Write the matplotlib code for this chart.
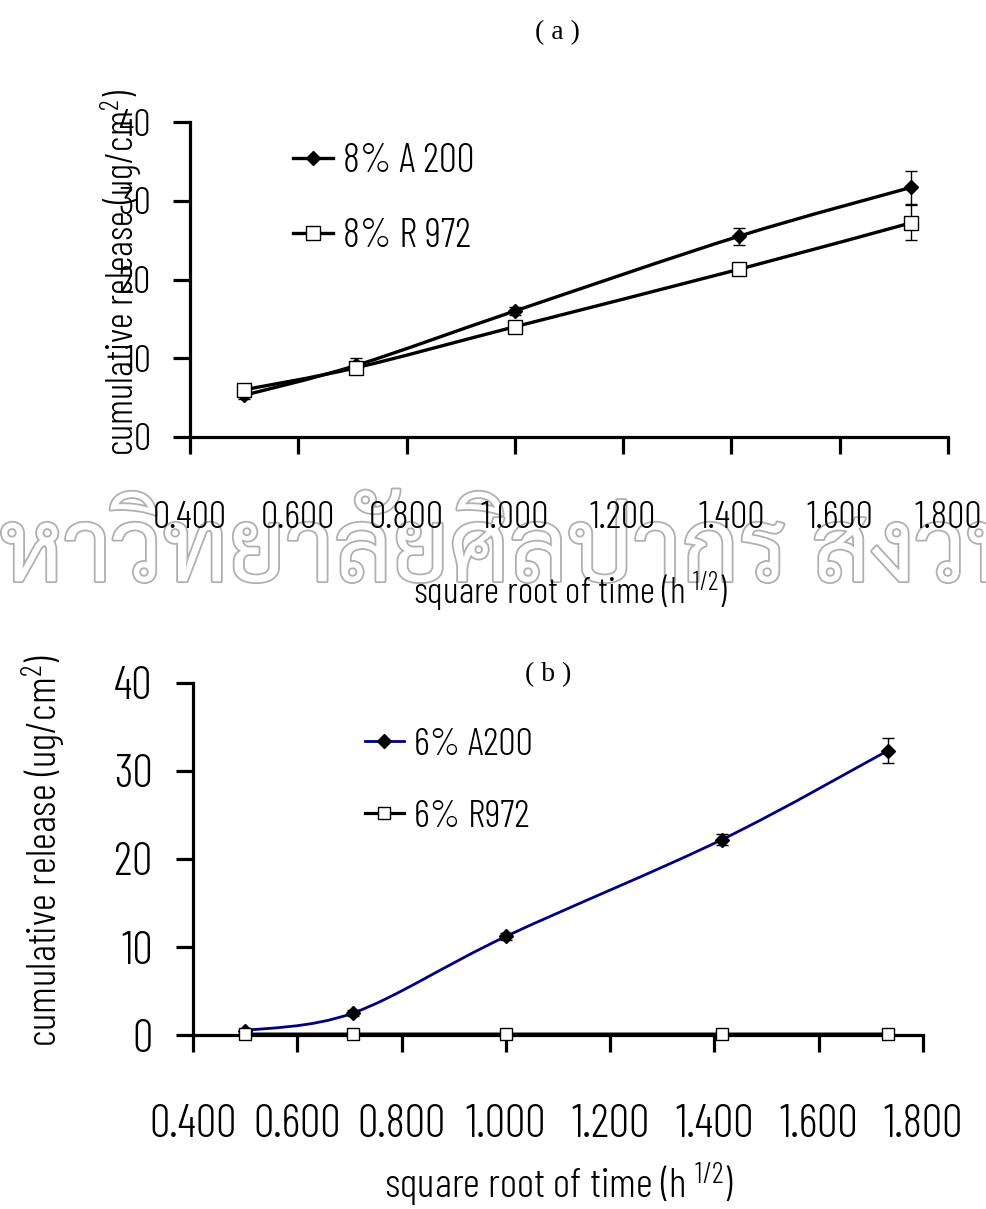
import numpy as np
import matplotlib
matplotlib.use('Agg')
import matplotlib.pyplot as plt
import matplotlib.patheffects as pe
from matplotlib import font_manager
from matplotlib.path import Path
from matplotlib.patches import PathPatch
from matplotlib.lines import Line2D
from matplotlib.ticker import FormatStrFormatter

# sampling times 0.25, 0.5, 1, 2 and 3 h, plotted against sqrt(t)
sqrt_t = np.sqrt([0.25, 0.5, 1.0, 2.0, 3.0])

# (a) 8% silica
a200_8 = [5.3, 9.1, 16.0, 25.5, 31.7]
a200_8_sd = [0.5, 0.9, 0.5, 1.1, 2.1]
r972_8 = [6.0, 8.8, 14.0, 21.3, 27.2]
r972_8_sd = [0.6, 0.7, 0.5, 0.5, 2.2]

# (b) 6% silica
a200_6 = [0.5, 2.5, 11.2, 22.2, 32.3]
a200_6_sd = [0.2, 0.3, 0.4, 0.6, 1.4]
r972_6 = [0.1, 0.1, 0.1, 0.1, 0.1]
r972_6_sd = [0.0, 0.0, 0.0, 0.0, 0.0]

x_ticks = [0.4, 0.6, 0.8, 1.0, 1.2, 1.4, 1.6, 1.8]
y_ticks = [0, 10, 20, 30, 40]

# thin condensed sans for all chart text
installed = {f.name for f in font_manager.fontManager.ttflist}
narrow = next((n for n in ['Barlow Condensed', 'Fira Sans Extra Condensed',
                           'Saira ExtraCondensed', 'Sofia Sans Extra Condensed']
               if n in installed), 'DejaVu Sans')
plt.rcParams['font.family'] = [narrow, 'DejaVu Sans']
plt.rcParams['font.weight'] = 300
plt.rcParams['mathtext.fontset'] = 'custom'
plt.rcParams['mathtext.rm'] = narrow + ':weight=300'
plt.rcParams['mathtext.default'] = 'rm'

W, H = 987, 1209
fig = plt.figure(figsize=(W / 100, H / 100), dpi=100)


def px_axes(left, top, right, bottom):
    return fig.add_axes([left / W, 1 - bottom / H, (right - left) / W, (bottom - top) / H])


def smooth_line(ax, xs, ys, **kw):
    # excel-like smoothed line: catmull-rom segments as cubic beziers
    pts = np.column_stack([xs, ys])
    n = len(pts)
    verts = [pts[0]]
    codes = [Path.MOVETO]
    for i in range(n - 1):
        p0 = pts[max(i - 1, 0)]
        p1, p2 = pts[i], pts[i + 1]
        p3 = pts[min(i + 2, n - 1)]
        verts += [p1 + (p2 - p0) / 6, p2 - (p3 - p1) / 6, p2]
        codes += [Path.CURVE4] * 3
    ax.add_patch(PathPatch(Path(verts, codes), fill=False, clip_on=False, **kw))


def style_axes(ax, fs, xpad, ypad):
    ax.set_xlim(0.4, 1.8)
    ax.set_ylim(0, 40)
    ax.set_xticks(x_ticks)
    ax.set_yticks(y_ticks)
    ax.xaxis.set_major_formatter(FormatStrFormatter('%.3f'))
    for s in ['top', 'right']:
        ax.spines[s].set_visible(False)
    for s in ['left', 'bottom']:
        ax.spines[s].set_linewidth(2.3)
    ax.tick_params(direction='out', length=12, width=2.3, labelsize=fs)
    ax.tick_params(axis='x', pad=xpad)
    ax.tick_params(axis='y', pad=ypad)
    ax.patch.set_visible(False)


def series(ax, y, sd, color, lw, marker, mfc, ms):
    smooth_line(ax, sqrt_t, y, color=color, lw=lw, zorder=3)
    ax.errorbar(sqrt_t, y, yerr=sd, fmt='none', ecolor='black', elinewidth=1,
                capsize=4, capthick=1, zorder=4, clip_on=False)
    ax.plot(sqrt_t, y, linestyle='none', marker=marker, ms=ms, mfc=mfc,
            mec='black', mew=1, zorder=5, clip_on=False)
    return Line2D([], [], color=color, lw=lw, marker=marker, ms=ms, mfc=mfc,
                  mec='black', mew=1)


# hollow watermark across the middle of the page
fig.text(-62 / W, 1 - 556 / H, 'มหาวิทยาลัยศิลปากร สงวนลิขสิทธิ์',
         family=['Sarabun', 'DejaVu Sans'], fontsize=72, weight='normal',
         color='white', ha='left', va='center', zorder=-1,
         path_effects=[pe.withStroke(linewidth=2.6, foreground='#b0b0b0')])

# ---- (a)
ax1 = px_axes(190, 122, 948, 437)
style_axes(ax1, 28, 34, 16)
h1 = series(ax1, a200_8, a200_8_sd, 'black', 2.4, 'D', 'black', 7.5)
h2 = series(ax1, r972_8, r972_8_sd, 'black', 2.4, 's', 'white', 9.5)
ax1.legend([h1, h2], ['8% A 200', '8% R 972'], loc='center left',
           bbox_to_anchor=(293 / W, 1 - 199 / H), bbox_transform=fig.transFigure,
           frameon=False, fontsize=29, handlelength=1.0, handletextpad=0.25,
           labelspacing=0.95, borderpad=0, borderaxespad=0)
fig.text(557 / W, 1 - 33 / H, '( a )', family='Liberation Serif', weight='normal',
         fontsize=20, ha='center', va='center')
fig.text(121 / W, 1 - 272 / H, 'cumulative release (ug/cm$^{2}$)', rotation=90,
         fontsize=28, ha='center', va='center')
fig.text(571 / W, 1 - 592 / H, 'square root of time (h $^{1/2}$)', fontsize=27,
         ha='center', va='center')

# ---- (b)
ax2 = px_axes(193, 683, 923, 1035)
style_axes(ax2, 33, 38, 17)
h3 = series(ax2, a200_6, a200_6_sd, '#000080', 2.0, 'D', 'black', 7)
h4 = series(ax2, r972_6, r972_6_sd, 'black', 2.3, 's', 'white', 9)
ax2.legend([h3, h4], ['6% A200', '6% R972'], loc='center left',
           bbox_to_anchor=(365 / W, 1 - 781 / H), bbox_transform=fig.transFigure,
           frameon=False, fontsize=28, handlelength=1.0, handletextpad=0.25,
           labelspacing=0.95, borderpad=0, borderaxespad=0)
fig.text(548 / W, 1 - 675 / H, '( b )', family='Liberation Serif', weight='normal',
         fontsize=20, ha='center', va='center')
fig.text(44 / W, 1 - 850 / H, 'cumulative release (ug/cm$^{2}$)', rotation=90,
         fontsize=30, ha='center', va='center')
fig.text(559 / W, 1 - 1185 / H, 'square root of time (h $^{1/2}$)', fontsize=30,
         ha='center', va='center')

fig.savefig('out.png', dpi=100)
